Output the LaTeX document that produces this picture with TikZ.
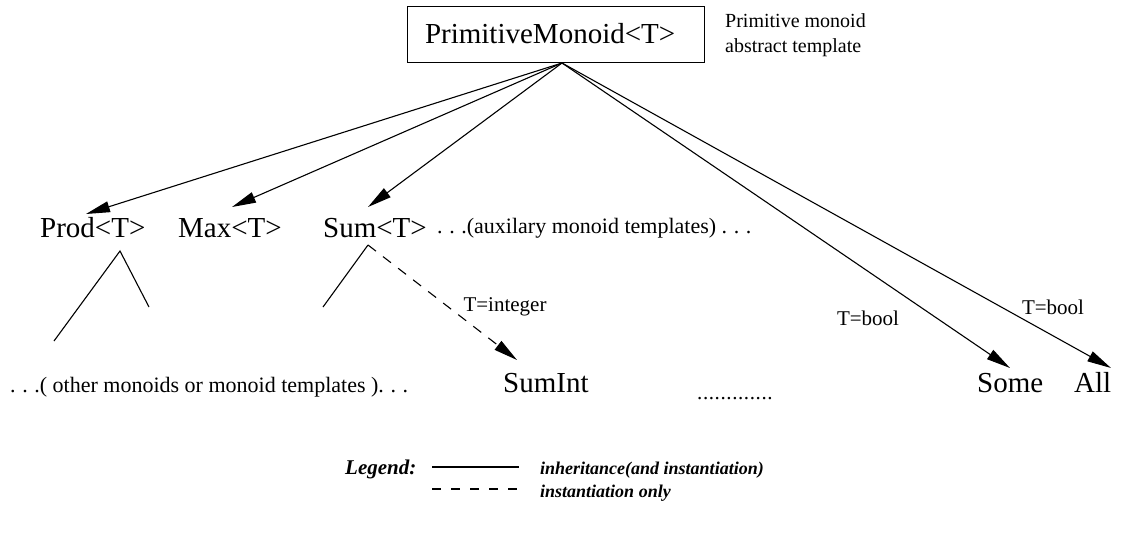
\documentclass[tikz,border=0pt]{standalone}
\usepackage{fontspec}
\setmainfont{Liberation Serif}
\usetikzlibrary{arrows.meta}
\newcommand{\spdots}{.\kern0.3em.\kern0.3em.}
\begin{document}
\begin{tikzpicture}[x=1pt,y=-1pt,
  big/.style={font=\fontsize{29}{34}\selectfont, inner sep=0pt, anchor=base west},
  mid/.style={font=\fontsize{21}{27}\selectfont, inner sep=0pt, anchor=base west},
  wide/.style={font=\fontsize{22}{27}\selectfont, inner sep=0pt, anchor=base west},
  lbl/.style={font=\fontsize{21}{27}\selectfont, inner sep=0pt, anchor=center},
  legtext/.style={font=\fontsize{18}{22}\selectfont\bfseries\itshape, inner sep=0pt, anchor=base west},
  link/.style={line width=1.1pt},
  inherit/.style={link, -{Triangle[length=24pt,width=11pt]}},
  instonly/.style={link, dash pattern=on 10pt off 9pt, -{Triangle[length=24pt,width=11pt]}},
  legdash/.style={link, dash pattern=on 9pt off 10pt}]
\useasboundingbox (0,0) rectangle (1138,533);

% root template box and its note
\node[draw, line width=0.9pt, minimum width=297pt, minimum height=56pt,
      text width=261pt, inner xsep=18pt, inner ysep=0pt, align=left,
      font=\fontsize{29}{34}\selectfont] (pm) at (555.5,34) {PrimitiveMonoid<T>};
\node[font=\fontsize{20}{26}\selectfont, inner sep=0pt, anchor=base west] (note1) at (725,27) {Primitive monoid};
\node[font=\fontsize{20}{26}\selectfont, inner sep=0pt, anchor=base west] (note2) at (725,52) {abstract template};
\coordinate (apex) at (562,63);

% auxiliary templates
\node[big] (prod) at (40,237) {Prod<T>};
\node[big] (max) at (178,237) {Max<T>};
\node[big] (sum) at (323,237) {Sum<T>};
\node[wide] (aux) at (437,233) {\spdots(auxilary monoid templates) \spdots};

% bottom row
\node[wide] (other) at (10,392) {\spdots( other monoids or monoid templates )\spdots};
\node[big] (sumint) at (503,392) {SumInt};
\node[mid] (dots) at (697,399) {.\kern0.6pt.\kern0.6pt.\kern0.6pt.\kern0.6pt.\kern0.6pt.\kern0.6pt.\kern0.6pt.\kern0.6pt.\kern0.6pt.\kern0.6pt.\kern0.6pt.\kern0.6pt.};
\node[big] (some) at (977,392) {Some};
\node[big] (all) at (1074,392) {All};

% arrow end points
\coordinate (tprod) at (86,214);
\coordinate (tmax) at (232,207);
\coordinate (tsum) at (368,207);
\coordinate (tsumint) at (517,360);
\coordinate (tsome) at (1010,368);
\coordinate (tall) at (1111,368);

% open subtree stubs
\coordinate (pa) at (120,251);
\coordinate (pl) at (54,341);
\coordinate (pr) at (149,307);
\coordinate (sa) at (368,245);
\coordinate (sl) at (323,307);

\draw[inherit] (apex) -- (tprod);
\draw[inherit] (apex) -- (tmax);
\draw[inherit] (apex) -- (tsum);
\draw[inherit] (apex) -- (tsome);
\draw[inherit] (apex) -- (tall);
\draw[instonly] (sa) -- (tsumint);
\draw[link] (pl) -- (pa) -- (pr);
\draw[link] (sa) -- (sl);

% edge labels
\node[lbl] (lint) at (505,307) {T=integer};
\node[lbl] (lbool1) at (868,318) {T=bool};
\node[lbl] (lbool2) at (1053,307) {T=bool};

% legend
\node[font=\fontsize{21}{25}\selectfont\bfseries\itshape, inner sep=0pt, anchor=base west] (legend) at (345,474) {Legend:};
\coordinate (ls1) at (432,467);
\coordinate (ls2) at (519,467);
\coordinate (ld1) at (432,489);
\coordinate (ld2) at (519,489);
\draw[link] (ls1) -- (ls2);
\draw[legdash] (ld1) -- (ld2);
\node[legtext] (linh) at (540,474) {inheritance(and instantiation)};
\node[legtext] (linst) at (540,497) {instantiation only};
\end{tikzpicture}
\end{document}
